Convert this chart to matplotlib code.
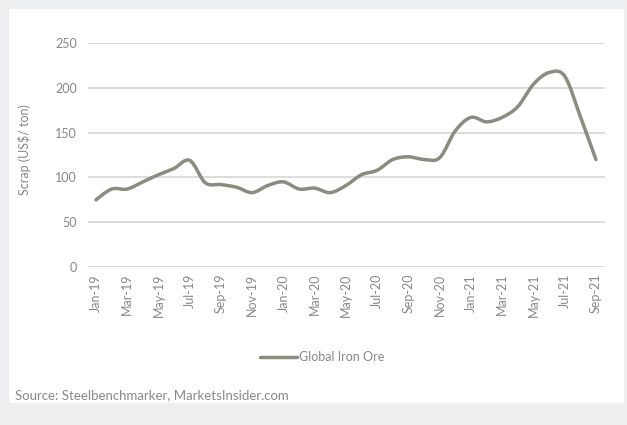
import numpy as np
import matplotlib
matplotlib.use('Agg')
import matplotlib.pyplot as plt
from matplotlib.path import Path
from matplotlib.patches import PathPatch, Rectangle
from matplotlib.lines import Line2D

plt.rcParams['font.family'] = ['Lato', 'DejaVu Sans']

# monthly iron ore price, Jan-19 .. Sep-21
months = ['Jan-19', 'Feb-19', 'Mar-19', 'Apr-19', 'May-19', 'Jun-19', 'Jul-19', 'Aug-19',
          'Sep-19', 'Oct-19', 'Nov-19', 'Dec-19', 'Jan-20', 'Feb-20', 'Mar-20', 'Apr-20',
          'May-20', 'Jun-20', 'Jul-20', 'Aug-20', 'Sep-20', 'Oct-20', 'Nov-20', 'Dec-20',
          'Jan-21', 'Feb-21', 'Mar-21', 'Apr-21', 'May-21', 'Jun-21', 'Jul-21', 'Aug-21',
          'Sep-21']
iron_ore = [75, 87, 87, 95, 103, 110, 119, 94, 92, 89, 83, 91, 95, 87, 88, 83,
            91, 103, 108, 120, 123, 120, 122, 152, 167, 162, 167, 179, 204, 217, 213, 168,
            120]
yticks = [0, 50, 100, 150, 200, 250]

line_col = '#8c8b7f'
text_col = '#888888'
fs = 9

fig = plt.figure(figsize=(6.27, 4.25), dpi=100)
fig.patch.set_facecolor('#edeef0')
# white card behind the chart
fig.add_artist(Rectangle((9 / 627, 22 / 425), 615 / 627, 394 / 425,
                         transform=fig.transFigure, facecolor='white',
                         edgecolor='none', zorder=0))

ax = fig.add_axes([88 / 627, 158 / 425, 517 / 627, 224 / 425])
ax.set_facecolor('none')

# smoothed line: catmull-rom segments turned into cubic bezier curves
x = np.arange(len(iron_ore), dtype=float)
y = np.array(iron_ore, dtype=float)
verts = [(x[0], y[0])]
codes = [Path.MOVETO]
n = len(x)
for i in range(n - 1):
    p0 = (x[max(i - 1, 0)], y[max(i - 1, 0)])
    p1 = (x[i], y[i])
    p2 = (x[i + 1], y[i + 1])
    p3 = (x[min(i + 2, n - 1)], y[min(i + 2, n - 1)])
    c1 = (p1[0] + (p2[0] - p0[0]) / 6, p1[1] + (p2[1] - p0[1]) / 6)
    c2 = (p2[0] - (p3[0] - p1[0]) / 6, p2[1] - (p3[1] - p1[1]) / 6)
    verts += [c1, c2, p2]
    codes += [Path.CURVE4] * 3
ax.add_patch(PathPatch(Path(verts, codes), facecolor='none', edgecolor=line_col,
                       lw=2.5, capstyle='round', joinstyle='round', zorder=3))

ax.set_xlim(-0.51, 32.58)
ax.set_ylim(0, 250)
ax.set_yticks(yticks)
ax.yaxis.grid(True, color='#d9d9d9', lw=1.3)
ax.set_axisbelow(True)
for s in ax.spines.values():
    s.set_visible(False)
ax.tick_params(axis='both', length=0, colors=text_col, labelsize=fs)
ax.tick_params(axis='y', pad=8)
ax.tick_params(axis='x', pad=5)
ax.set_xticks(x[::2])
ax.set_xticklabels(months[::2], rotation=90)
ax.set_ylabel('Scrap (US$/ ton)', color=text_col, fontsize=fs)
ax.yaxis.set_label_coords(-0.11, 0.525)

handle = Line2D([], [], color=line_col, lw=2.5, solid_capstyle='round')
fig.legend([handle], ['Global Iron Ore'], loc='center', bbox_to_anchor=(322 / 627, 1 - 357 / 425),
           frameon=False, fontsize=fs, labelcolor=text_col, handlelength=3.0,
           handletextpad=0.1)

fig.text(15 / 627, 1 - 395 / 425, 'Source: Steelbenchmarker, MarketsInsider.com',
         color=text_col, fontsize=fs + 0.5, va='center', ha='left')

fig.savefig('out.png', dpi=100, facecolor=fig.get_facecolor())
